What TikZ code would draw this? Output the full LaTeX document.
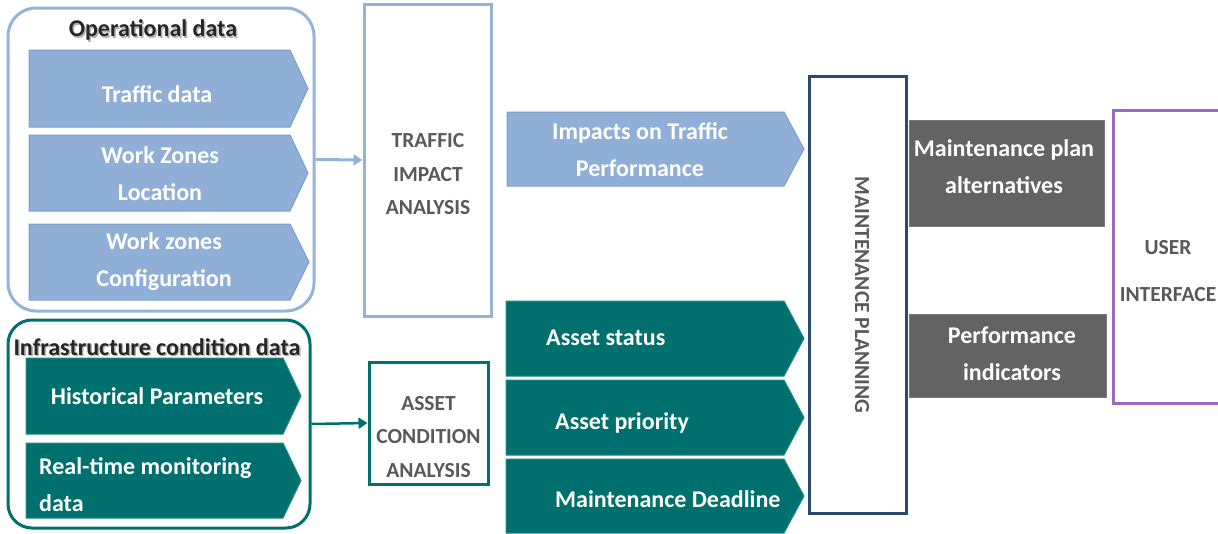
\documentclass[tikz,border=0pt]{standalone}
\usepackage{fontspec}
\setmainfont{Carlito}
\usetikzlibrary{arrows.meta}

\definecolor{opfill}{HTML}{8FAFD7}
\definecolor{opedge}{HTML}{7C9DCA}
\definecolor{opline}{HTML}{95B3D7}
\definecolor{infteal}{HTML}{00706F}
\definecolor{mpnavy}{HTML}{2C4A6E}
\definecolor{outgray}{HTML}{636363}
\definecolor{uipurple}{HTML}{9A6BC4}
\definecolor{labelgray}{HTML}{595959}
\definecolor{headgray}{HTML}{262626}

\tikzset{
  groupbox/.style={draw=#1, line width=3pt, rounded corners=28pt, inner sep=0pt},
  stagebox/.style={draw=#1, line width=3pt, fill=white, inner sep=0pt},
  outbox/.style={fill=outgray, draw=outgray!85!white, line width=0.8pt, inner sep=0pt},
  chevop/.style={fill=opfill, draw=opedge, line width=1pt},
  chevinf/.style={fill=infteal, draw=infteal!85!white, line width=1pt},
  chevtext/.style={text=white, font=\bfseries\fontsize{24}{37}\selectfont, align=center, inner sep=0pt},
  heading/.style={text=headgray, font=\bfseries\fontsize{24}{26}\selectfont, inner sep=0pt},
  headshadow/.style={text=black!30, font=\bfseries\fontsize{24}{26}\selectfont, inner sep=0pt},
  stagetext/.style={text=labelgray, font=\bfseries\fontsize{21.5}{33.5}\selectfont, align=center, inner sep=0pt},
  flow/.style={line width=3pt, -{Triangle[length=9pt,width=11pt]}},
}

% chevron: x1, y1, x2, y2, tip x, style
\newcommand\chevron[6]{%
  \path[#6] (#1,#2) -- (#3,#2) -- (#5,{(#2+#4)/2}) -- (#3,#4) -- (#1,#4) -- cycle;}

\begin{document}
\begin{tikzpicture}[x=1pt,y=-1pt]
\useasboundingbox (0,0) rectangle (1218,533);

% ---------- operational data group ----------
\node[groupbox=opline, minimum width=306pt, minimum height=303pt] (opgroup) at (161,159.5) {};
\node[headshadow] (optitleshadow) at (154.5,31.5) {Operational data};
\node[heading] (optitle) at (153,30) {Operational data};

\chevron{29}{50}{290}{127}{308}{chevop}
\node[chevtext] (traffic) at (157,94) {Traffic data};
\chevron{29}{135}{290}{211}{308}{chevop}
\node[chevtext] (wzloc) at (160,174) {Work Zones\\Location};
\chevron{29}{224}{290}{300}{309}{chevop}
\node[chevtext] (wzconf) at (164,262) {Work zones\\Configuration};

% ---------- infrastructure condition group ----------
\node[groupbox=infteal, minimum width=302pt, minimum height=208pt, rounded corners=24pt] (infgroup) at (159,424) {};
\node[headshadow] (inftitleshadow) at (158.5,348.5) {Infrastructure condition data};
\node[heading] (inftitle) at (157,347) {Infrastructure condition data};

\chevron{26}{358}{283}{434}{301}{chevinf}
\node[chevtext] (histpar) at (157,396) {Historical Parameters};
\chevron{26}{443}{283}{518}{301}{chevinf}
\node[chevtext, align=left, anchor=west] (realtime) at (39,485) {Real-time monitoring\\data};

% ---------- analysis stages ----------
\node[stagebox=opline, minimum width=127pt, minimum height=312pt] (tia) at (427.5,160) {};
\node[stagetext] (tialabel) at (428,174.5) {TRAFFIC\\IMPACT\\ANALYSIS};

\node[stagebox=infteal, minimum width=119pt, minimum height=122pt] (aca) at (428.5,423) {};
\node[stagetext] (acalabel) at (428.5,437) {ASSET\\CONDITION\\ANALYSIS};

\draw[flow, opline] (opgroup.east) -- (tia.west);
\draw[flow, infteal, line width=2.5pt] (infgroup.east) -- (aca.west);

% ---------- analysis results ----------
\chevron{507}{112}{784}{186}{804}{chevop}
\node[chevtext] (impacts) at (640,150) {Impacts on Traffic\\Performance};

\chevron{506}{301}{784}{376}{804}{chevinf}
\node[chevtext, anchor=west] (status) at (546,338) {Asset status};
\chevron{506}{380}{784}{455}{804}{chevinf}
\node[chevtext, anchor=west] (priority) at (555,423) {Asset priority};
\chevron{506}{459}{784}{533}{804}{chevinf}
\node[chevtext, anchor=west] (deadline) at (555,499) {Maintenance Deadline};

% ---------- maintenance planning ----------
\node[stagebox=mpnavy, minimum width=97pt, minimum height=437pt] (mp) at (857.5,294.5) {};
\node[stagetext, rotate=-90] (mplabel) at (862,295) {MAINTENANCE PLANNING};

% ---------- outputs ----------
\node[outbox, minimum width=195pt, minimum height=106pt] (mpa) at (1006.5,173) {};
\node[chevtext] (mpalabel) at (1004,166.5) {Maintenance plan\\alternatives};
\node[outbox, minimum width=197pt, minimum height=83pt] (pi) at (1007.5,355.5) {};
\node[chevtext] (pilabel) at (1012,353.5) {Performance\\indicators};

% ---------- user interface ----------
\node[stagebox=uipurple, minimum width=112pt, minimum height=293pt] (ui) at (1169,256.5) {};
\node[stagetext, font=\bfseries\fontsize{21.5}{47}\selectfont] (uilabel) at (1168,271.5) {USER\\INTERFACE};
\end{tikzpicture}
\end{document}
